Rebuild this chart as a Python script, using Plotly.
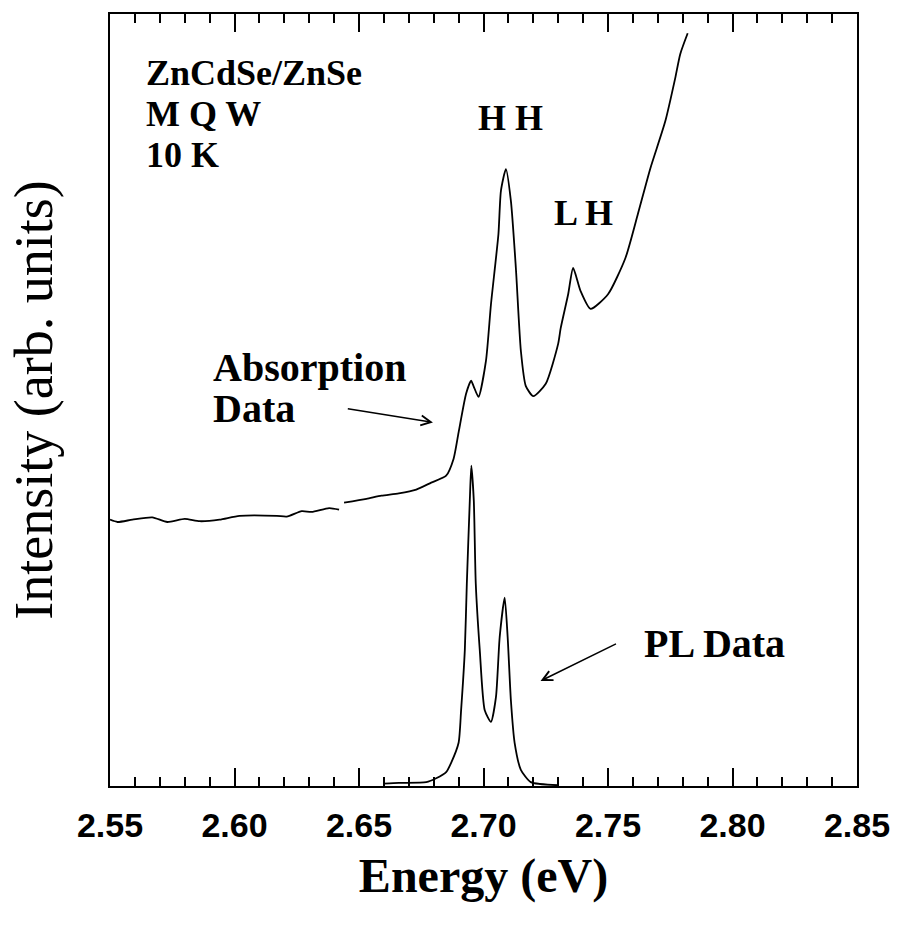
import plotly.graph_objects as go

# Absorption spectrum (energy in eV, intensity in arb. units); None marks the break in the scan
abs_energy = [2.550, 2.553, 2.559, 2.567, 2.573, 2.580, 2.586, 2.594, 2.602, 2.617,
              2.621, 2.627, 2.631, 2.638, 2.642, 2.643, 2.644, 2.653, 2.659, 2.666,
              2.673, 2.679, 2.685, 2.688, 2.690, 2.693, 2.695, 2.696, 2.698, 2.701,
              2.703, 2.706, 2.707, 2.709, 2.711, 2.713, 2.715, 2.717, 2.720, 2.725,
              2.730, 2.731, 2.734, 2.736, 2.739, 2.743, 2.750, 2.757, 2.762, 2.767,
              2.773, 2.777, 2.779, 2.782]
abs_intensity = [34.5, 34.2, 34.5, 34.8, 34.2, 34.6, 34.3, 34.5, 35.0, 35.0,
                 34.9, 35.6, 35.5, 36.0, 35.8, None, 36.7, 37.2, 37.6, 37.9,
                 38.4, 39.3, 40.2, 42.4, 45.8, 50.8, 52.5, 51.8, 50.4, 55.1,
                 62.4, 71.5, 77.1, 79.9, 75.8, 67.1, 56.4, 51.8, 50.5, 52.1,
                 57.3, 59.3, 63.7, 67.1, 64.1, 61.8, 63.7, 68.4, 74.1, 80.0,
                 86.1, 91.7, 94.8, 97.5]

# Photoluminescence spectrum
pl_energy = [2.660, 2.666, 2.677, 2.681, 2.685, 2.687, 2.690, 2.691, 2.6925, 2.6933,
             2.6945, 2.6951, 2.6961, 2.6969, 2.6985, 2.7005, 2.703, 2.705, 2.7065,
             2.7085, 2.7097, 2.711, 2.7125, 2.715, 2.719, 2.730]
pl_intensity = [0.3, 0.4, 0.5, 1.0, 1.8, 3.0, 5.6, 9.8, 17.6, 26.2,
                37.0, 41.5, 37.0, 26.2, 17.6, 9.8, 8.3, 11.5, 19.3,
                24.4, 19.3, 11.1, 5.6, 2.1, 0.5, 0.1]

x_range = [2.55, 2.85]
major_step = 0.05
minor_step = 0.01

serif = "Liberation Serif, Times New Roman, serif"
sans = "Liberation Sans, Arial, sans-serif"

fig = go.Figure()
fig.add_trace(go.Scatter(x=abs_energy, y=abs_intensity, mode="lines",
                         line=dict(color="black", width=1.8, shape="spline", smoothing=0.6),
                         connectgaps=False, showlegend=False))
fig.add_trace(go.Scatter(x=pl_energy, y=pl_intensity, mode="lines",
                         line=dict(color="black", width=1.8, shape="spline", smoothing=0.6),
                         showlegend=False))
# empty trace carrying the top tick axis
fig.add_trace(go.Scatter(x=x_range, y=[None, None], xaxis="x2", mode="lines",
                         showlegend=False, hoverinfo="skip"))

label_font = dict(family=serif, size=36, color="black")
texts = [
    ("<b>ZnCdSe/ZnSe</b>", 2.5638, 92.3, "left"),
    ("<b>M Q W</b>", 2.5638, 87.0, "left"),
    ("<b>10 K</b>", 2.5638, 81.7, "left"),
    ("<b>H H</b>", 2.7107, 86.5, "center"),
    ("<b>L H</b>", 2.7400, 74.2, "center"),
]
for t, x, y, anchor in texts:
    fig.add_annotation(x=x, y=y, xref="x", yref="y", text=t, showarrow=False,
                       xanchor=anchor, yanchor="middle", font=label_font)

big_font = dict(family=serif, size=40, color="black")
fig.add_annotation(x=2.5905, y=54.2, text="<b>Absorption</b>", showarrow=False,
                   xanchor="left", yanchor="middle", font=big_font)
fig.add_annotation(x=2.5905, y=48.9, text="<b>Data</b>", showarrow=False,
                   xanchor="left", yanchor="middle", font=big_font)
fig.add_annotation(x=2.7637, y=18.4, text="<b>PL Data</b>", showarrow=False,
                   xanchor="left", yanchor="middle", font=big_font)

# Pointer arrows
fig.add_annotation(x=2.6797, y=47.1, ax=2.6449, ay=48.9, axref="x", ayref="y",
                   xref="x", yref="y", text="", showarrow=True,
                   arrowhead=5, arrowsize=1.3, arrowwidth=1.5, arrowcolor="black")
fig.add_annotation(x=2.7229, y=13.6, ax=2.7538, ay=18.5, axref="x", ayref="y",
                   xref="x", yref="y", text="", showarrow=True,
                   arrowhead=5, arrowsize=1.3, arrowwidth=1.5, arrowcolor="black")

ticks_common = dict(
    range=x_range, tickmode="linear", tick0=x_range[0], dtick=major_step,
    ticks="inside", ticklen=18, tickwidth=2, tickcolor="#000000",
    minor=dict(ticks="inside", dtick=minor_step, ticklen=9, tickwidth=2,
               tickcolor="#000000"),
    showgrid=False, zeroline=False, layer="above traces",
)

fig.update_layout(
    width=902, height=931,
    margin=dict(l=110, r=41, t=12, b=145),
    paper_bgcolor="#ffffff", plot_bgcolor="rgba(0,0,0,0)",
    template="simple_white",
    xaxis=dict(
        **ticks_common, tickformat=".2f",
        showline=True, linecolor="black", linewidth=2, mirror=True,
        ticklabelstandoff=8,
        tickfont=dict(family=sans, size=34, color="black", weight="bold"),
        title=dict(text="<b>Energy (eV)</b>", font=dict(family=serif, size=48, color="black"),
                   standoff=16),
    ),
    xaxis2=dict(**ticks_common, overlaying="x", side="top", matches="x",
                showticklabels=False, showline=False),
    yaxis=dict(
        range=[0, 100], showticklabels=False, ticks="",
        showline=True, linecolor="black", linewidth=2, mirror=True,
        showgrid=False, zeroline=False,
        title=dict(text="Intensity (arb. units)", font=dict(family=serif, size=54, color="black"),
                   standoff=38),
    ),
)

fig.write_html("out.html")
